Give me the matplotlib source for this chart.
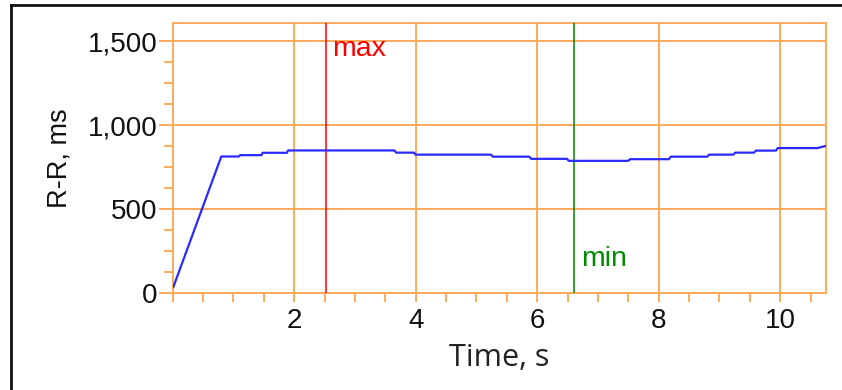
"""
R-R interval over time, with max / min markers.
"""

import matplotlib
matplotlib.use("Agg")
import matplotlib.pyplot as plt
from matplotlib.lines import Line2D
from matplotlib.ticker import FuncFormatter, MultipleLocator

# ─── Datos ───────────────────────────────────────────────────────────────────
time_s = [0.01, 0.80, 1.09, 1.11, 1.46, 1.48, 1.88, 1.90, 3.65, 3.68, 3.97,
          4.00, 5.24, 5.27, 5.87, 5.90, 6.49, 6.52, 7.50, 7.53, 8.17, 8.20,
          8.80, 8.83, 9.23, 9.26, 9.57, 9.60, 9.93, 9.96, 10.61, 10.75]
rr_ms = [35, 814, 814, 822, 822, 836, 836, 850, 850, 837, 837,
         825, 825, 813, 813, 800, 800, 788, 788, 798, 798, 813,
         813, 825, 825, 837, 837, 849, 849, 864, 864, 877]

max_time = 2.52
min_time = 6.61

x_ticks = [2, 4, 6, 8, 10]
y_ticks = [0, 500, 1000, 1500]

# ─── Estilo ──────────────────────────────────────────────────────────────────
ORANGE = "#FFAA5A"
BLUE = "#2A2AFF"
RED = "#FF0000"
GREEN = "#008A00"
TICK_FONT = "Liberation Sans"

fig = plt.figure(figsize=(8.42, 3.90), dpi=100)
ax = fig.add_axes([172.7 / 842, 97 / 390, 653 / 842, 270 / 390])

ax.plot(time_s, rr_ms, color=BLUE, linewidth=1.6, zorder=5)
ax.axvline(max_time, color=RED, linewidth=1.1, zorder=4)
ax.axvline(min_time, color=GREEN, linewidth=1.1, zorder=4)

ax.text(max_time + 0.11, 1455, "max", color=RED, fontsize=20.5,
        family=TICK_FONT, va="center", ha="left")
ax.text(min_time + 0.12, 200, "min", color=GREEN, fontsize=20.5,
        family=TICK_FONT, va="center", ha="left")

ax.set_xlim(0, 10.75)
ax.set_ylim(0, 1610)

ax.set_xticks(x_ticks)
ax.set_yticks(y_ticks)
ax.xaxis.set_minor_locator(MultipleLocator(0.5))
ax.yaxis.set_minor_locator(MultipleLocator(125))
ax.yaxis.set_major_formatter(FuncFormatter(lambda v, _: f"{v:,.0f}"))

ax.grid(True, which="major", color=ORANGE, linewidth=1.4)
ax.set_axisbelow(True)
for spine in ax.spines.values():
    spine.set_color(ORANGE)
    spine.set_linewidth(1.4)

ax.tick_params(axis="both", which="both", color=ORANGE, width=1.4,
               labelcolor="#111111", labelsize=20)
ax.tick_params(axis="y", which="major", length=10, pad=1)
ax.tick_params(axis="y", which="minor", length=6.5)
ax.tick_params(axis="x", which="major", length=6.5, pad=4)
ax.tick_params(axis="x", which="minor", length=6.5)
for label in ax.get_xticklabels() + ax.get_yticklabels():
    label.set_family(TICK_FONT)

ax.set_xlabel("Time, s", family="Open Sans", fontsize=22, color="#222222",
              labelpad=7)
ax.set_ylabel("R-R, ms", family=TICK_FONT, fontsize=19.5, color="#111111",
              labelpad=11)

# Marco exterior (solo izquierda y arriba)
fig.add_artist(Line2D([10.5 / 842, 10.5 / 842], [0, 1 - 5 / 390],
                      transform=fig.transFigure, color="#111111", linewidth=2))
fig.add_artist(Line2D([10.5 / 842, 1], [1 - 5 / 390, 1 - 5 / 390],
                      transform=fig.transFigure, color="#111111", linewidth=2))

fig.savefig("out.png", dpi=100, facecolor="white")
plt.close(fig)
